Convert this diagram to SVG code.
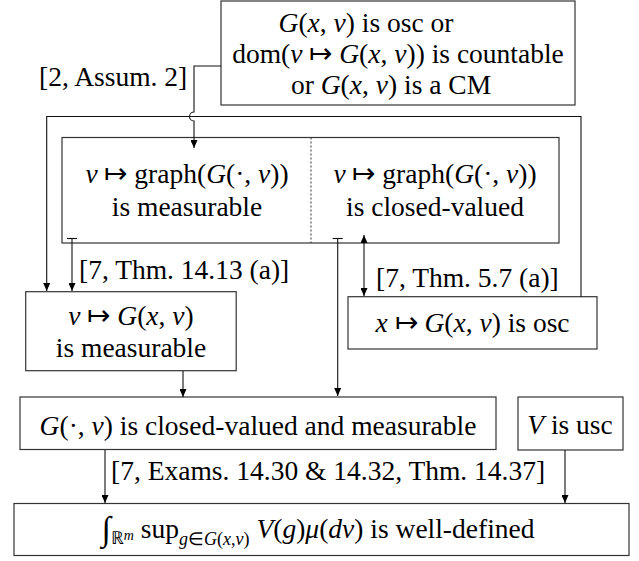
<svg xmlns="http://www.w3.org/2000/svg" width="639" height="561" viewBox="0 0 639 561">
<style>
.box{fill:#fff;stroke:#333;stroke-width:1.2}
.t{font-family:"Liberation Serif","Times New Roman",serif;font-size:27.5px;fill:#000}
.m{text-anchor:middle}
.i{font-style:italic}
.c{fill:none;stroke:#111;stroke-width:1.1}
</style>
<defs>
<marker id="ah" markerWidth="8" markerHeight="7" refX="8" refY="3.5" orient="auto-start-reverse" markerUnits="userSpaceOnUse">
<path d="M0,0 L8,3.5 L0,7 z" fill="#000"/>
</marker>
</defs>
<rect width="639" height="561" fill="#fff"/>
<g id="n-top">
<rect class="box" x="221" y="1" width="354" height="104"/>
<text class="t m" x="366" y="32"><tspan class="i">G</tspan>(<tspan class="i">x</tspan>, <tspan class="i">v</tspan>) is osc or</text>
<text class="t m" x="398" y="63">dom(<tspan class="i">v</tspan> ↦ <tspan class="i">G</tspan>(<tspan class="i">x</tspan>, <tspan class="i">v</tspan>)) is countable</text>
<text class="t m" x="391" y="94">or <tspan class="i">G</tspan>(<tspan class="i">x</tspan>, <tspan class="i">v</tspan>) is a CM</text>
</g>
<g id="n-graph">
<rect class="box" x="62" y="137.5" width="497" height="105.5"/>
<line x1="311" y1="137.5" x2="311" y2="243" stroke="#333" stroke-width="1" stroke-dasharray="2,2"/>
</g>
<g id="n-graph-meas">
<text class="t m" x="187" y="183"><tspan class="i">v</tspan> ↦ graph(<tspan class="i">G</tspan>(·, <tspan class="i">v</tspan>))</text>
<text class="t m" x="187" y="216">is measurable</text>
</g>
<g id="n-graph-closed">
<text class="t m" x="435" y="183"><tspan class="i">v</tspan> ↦ graph(<tspan class="i">G</tspan>(·, <tspan class="i">v</tspan>))</text>
<text class="t m" x="435" y="216">is closed-valued</text>
</g>
<g id="n-vmeas">
<rect class="box" x="25.7" y="291.7" width="210.5" height="79"/>
<text class="t m" x="131" y="325"><tspan class="i">v</tspan> ↦ <tspan class="i">G</tspan>(<tspan class="i">x</tspan>, <tspan class="i">v</tspan>)</text>
<text class="t m" x="131" y="357">is measurable</text>
</g>
<g id="n-osc">
<rect class="box" x="348" y="296.7" width="249" height="52.3"/>
<text class="t m" x="472.5" y="332"><tspan class="i">x</tspan> ↦ <tspan class="i">G</tspan>(<tspan class="i">x</tspan>, <tspan class="i">v</tspan>) is osc</text>
</g>
<g id="n-closed">
<rect class="box" x="20" y="397" width="476" height="52.5"/>
<text class="t m" x="258" y="435"><tspan class="i">G</tspan>(·, <tspan class="i">v</tspan>) is closed-valued and measurable</text>
</g>
<g id="n-V">
<rect class="box" x="518" y="397" width="105" height="53"/>
<text class="t m" x="570" y="434"><tspan class="i">V</tspan> is usc</text>
</g>
<g id="n-int">
<rect class="box" x="14" y="503.5" width="615" height="52"/>
<text class="t m" x="318" y="538"><tspan font-size="34" dy="2">∫</tspan><tspan font-size="18" dy="4">ℝ<tspan class="i" font-size="14" dy="-4">m</tspan></tspan><tspan dy="-2"> sup</tspan><tspan font-size="18" dy="7"><tspan class="i">g</tspan>∈<tspan class="i">G</tspan>(<tspan class="i">x</tspan>,<tspan class="i">v</tspan>)</tspan><tspan dy="-7"> </tspan><tspan class="i">V</tspan>(<tspan class="i">g</tspan>)<tspan class="i">μ</tspan>(<tspan class="i">dv</tspan>) is well-defined</text>
</g>
<g id="connectors">
<path class="c" d="M221,66 H194 V112 A4.5,4.5 0 0 0 194,121 V148" marker-end="url(#ah)"/>
<path class="c" d="M581,296.7 V116.5 H46.7 V291" marker-end="url(#ah)"/>
<path class="c" d="M72,238.5 V291" marker-end="url(#ah)"/>
<path class="c" d="M67,238.5 H77"/>
<path class="c" d="M337.7,238.5 V396" marker-end="url(#ah)"/>
<path class="c" d="M332.7,238.5 H342.7"/>
<path class="c" d="M364,235 V296" marker-start="url(#ah)" marker-end="url(#ah)"/>
<path class="c" d="M183,371 V397" marker-end="url(#ah)"/>
<path class="c" d="M105,450 V503" marker-end="url(#ah)"/>
<path class="c" d="M565,450 V503" marker-end="url(#ah)"/>
<text class="t" x="39" y="86">[2, Assum. 2]</text>
<text class="t" x="79" y="279">[7, Thm. 14.13 (a)]</text>
<text class="t" x="376" y="287">[7, Thm. 5.7 (a)]</text>
<text class="t" x="111" y="480">[7, Exams. 14.30 &amp; 14.32, Thm. 14.37]</text>
</g>
</svg>
